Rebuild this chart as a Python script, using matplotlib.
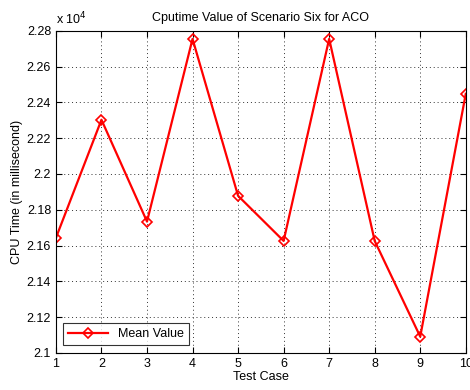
import matplotlib.pyplot as plt
import numpy as np
from matplotlib.ticker import FuncFormatter

plt.rcParams['font.family'] = ['Liberation Sans', 'DejaVu Sans']

# 테스트 케이스별 평균 CPU 시간 (ms)
test_case = np.arange(1, 11)
mean_value = [21643, 22303, 21734, 22755, 21878, 21626, 22755, 21626, 21091, 22448]

fig = plt.figure(figsize=(4.7, 3.9), dpi=100)
ax = fig.add_axes([0.119, 0.095, 0.872, 0.826])

ax.plot(test_case, mean_value, color='red', linewidth=1.6, marker='D',
        markersize=5, markerfacecolor='none', markeredgecolor='red',
        markeredgewidth=1.2, label='Mean Value')

ax.set_xlim(1, 10)
ax.set_ylim(21000, 22800)
ax.set_xticks(test_case)
ax.set_yticks(np.arange(21000, 22801, 200))
ax.yaxis.set_major_formatter(FuncFormatter(lambda v, p: f'{v / 1e4:g}'))
ax.tick_params(direction='in', top=True, right=True, labelsize=9, length=4)
ax.grid(True, linestyle=(0, (1, 3)), color='#333333', linewidth=0.7)

ax.text(0.0, 1.012, r'x 10$^4$', transform=ax.transAxes, fontsize=9, va='bottom')
ax.set_title('Cputime Value of Scenario Six for ACO', fontsize=9, pad=7)
ax.set_xlabel('Test Case', fontsize=9, labelpad=1)
ax.set_ylabel('CPU Time (in millisecond)', fontsize=9, labelpad=3)

leg = ax.legend(loc='lower left', fontsize=9, fancybox=False, edgecolor='black',
                handlelength=3.2, borderaxespad=0.6)
leg.get_frame().set_linewidth(0.8)

fig.savefig('out.png')
